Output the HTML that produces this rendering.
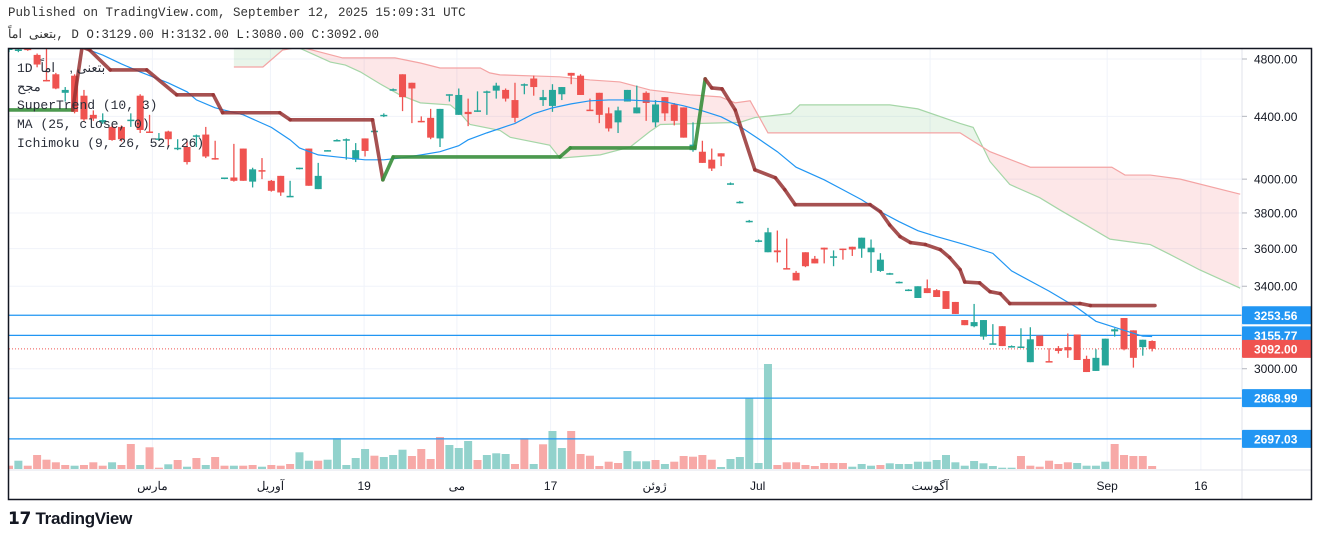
<!DOCTYPE html>
<html><head><meta charset="utf-8">
<style>
body{margin:0;width:1320px;height:541px;background:#fff;overflow:hidden;font-family:"Liberation Mono","Noto Sans CJK SC",monospace;}
.hdr{position:absolute;left:8px;font-size:12.5px;color:#333;white-space:nowrap;}
.lg{position:absolute;left:17px;font-size:13px;color:#2a2e39;white-space:nowrap;}
#chart{position:absolute;left:0;top:0;}
.logo{position:absolute;left:8px;top:509px;font:bold 17px "Liberation Sans",sans-serif;color:#131722;letter-spacing:-0.3px;}
</style></head><body>
<div class="hdr" style="top:6px">Published on TradingView.com, September 12, 2025 15:09:31 UTC</div>
<div class="hdr" style="top:26px"><span style="font-family:'Liberation Sans','Noto Sans CJK SC',sans-serif">بتعنی &nbsp;اماً</span>, D O:3129.00 H:3132.00 L:3080.00 C:3092.00</div>
<svg id="chart" width="1320" height="541" xmlns="http://www.w3.org/2000/svg">
<defs><clipPath id="pane"><rect x="9" y="49" width="1233" height="421"/></clipPath></defs>
<g id="grid"></g>
<g id="cloud" clip-path="url(#pane)"></g>
<g id="vol" clip-path="url(#pane)"></g>
<g id="hlines"></g>
<g id="candles" clip-path="url(#pane)"></g>
<g id="ind" clip-path="url(#pane)"></g>
<g id="axis"></g>
<rect x="8.5" y="48.5" width="1303" height="451" fill="none" stroke="#131722" stroke-width="1.5"/>
</svg>
<div class="lg" style="top:60px">1D <span style="font-family:'Liberation Sans','Noto Sans CJK SC',sans-serif">بتعنی ,&nbsp;&nbsp;&nbsp; اماً</span></div>
<div class="lg" style="top:79px;font-family:'Liberation Sans','Noto Sans CJK SC',sans-serif">مجح</div>
<div class="lg" style="top:98px">SuperTrend (10, 3)</div>
<div class="lg" style="top:117px">MA (25, close, 0)</div>
<div class="lg" style="top:136px">Ichimoku (9, 26, 52, 26)</div>
<div class="logo">𝟭𝟳 TradingView</div>
<script>
const opens=[4866,4860,4880,4830,4650,4690,4560,4680,4540,4410,4360,4330,4330,4370,4540,4300,4250,4300,4190,4200,4270,4280,4130,4005,4010,4190,3985,4055,3990,4020,3895,4065,4190,3940,4175,4240,4245,4120,4255,4300,4405,4580,4690,4630,4370,4390,4255,4545,4410,4430,4430,4560,4575,4580,4510,4615,4660,4510,4470,4550,4700,4680,4445,4560,4420,4360,4500,4420,4560,4360,4530,4480,4460,4180,4170,4120,4160,3970,3860,3750,3640,3580,3590,3495,3470,3580,3545,3605,3552,3600,3610,3600,3580,3480,3465,3420,3380,3340,3390,3380,3375,3320,3230,3200,3150,3115,3200,3102,3100,3030,3155,3035,3095,3100,3160,3045,2990,3015,3175,3240,3180,3100,3129];
const closes=[4890,4870,4865,4760,4640,4590,4580,4430,4380,4385,4375,4245,4250,4378,4310,4295,4255,4250,4195,4105,4275,4140,4125,4010,3990,3990,4060,4050,3930,3920,3900,4070,3960,4020,4180,4245,4250,4180,4175,4305,4410,4585,4530,4590,4365,4260,4450,4550,4545,4415,4440,4570,4610,4520,4390,4620,4600,4530,4580,4600,4680,4545,4440,4410,4320,4440,4580,4460,4490,4480,4420,4370,4260,4215,4100,4065,4140,3975,3865,3755,3645,3690,3580,3490,3430,3505,3520,3595,3558,3595,3595,3660,3605,3540,3468,3423,3383,3400,3365,3345,3285,3260,3205,3220,3230,3118,3105,3105,3103,3137,3105,3033,3082,3085,3040,2985,3050,3140,3185,3090,3050,3135,3092];
const highs=[4895,4880,4885,4840,4880,4700,4600,4690,4580,4440,4420,4340,4340,4420,4550,4410,4290,4305,4250,4240,4280,4330,4240,4010,4220,4190,4070,4130,3995,4020,3990,4070,4190,4100,4180,4250,4255,4225,4255,4310,4420,4590,4690,4630,4400,4450,4450,4550,4590,4520,4570,4575,4630,4590,4630,4625,4680,4580,4620,4600,4700,4690,4520,4560,4460,4465,4580,4610,4570,4510,4530,4490,4460,4360,4240,4190,4160,3980,3870,3760,3650,3715,3700,3655,3480,3580,3560,3605,3590,3600,3610,3660,3650,3575,3470,3425,3385,3400,3435,3385,3375,3320,3230,3310,3230,3210,3200,3108,3190,3195,3155,3095,3105,3165,3160,3060,3090,3140,3190,3240,3180,3135,3132];
const lows=[4850,4850,4860,4740,4640,4585,4500,4420,4370,4370,4350,4240,4235,4330,4290,4290,4240,4200,4180,4090,4200,4130,4120,4000,3985,3990,3950,4000,3925,3900,3895,4060,3960,3940,4175,4235,4120,4105,4140,4300,4395,4575,4435,4355,4360,4250,4200,4500,4410,4335,4430,4410,4520,4500,4360,4550,4540,4470,4430,4510,4620,4545,4440,4355,4300,4290,4500,4420,4370,4330,4370,4340,4260,4170,4100,4050,4080,3965,3855,3745,3635,3580,3525,3490,3430,3500,3520,3520,3505,3540,3560,3550,3470,3475,3460,3415,3375,3340,3365,3345,3285,3260,3205,3195,3135,3115,3105,3100,3100,3030,3105,3033,3070,3050,3040,2985,2990,3015,3150,3085,3005,3060,3080];
const volumes=[3.3,8.3,3.3,14,9.3,6.7,4,3.3,4,6.7,3.3,6.7,4,25,4,21.7,1.3,4.7,9,2.3,11,4,12,3.3,3.3,3.3,4,2.3,4,3.3,5,16.7,8.3,8.3,9.3,30.7,4,11,20,13.3,12,14,19.3,13,20,10,32,24,21,28,9,14,15.7,15,5,30.7,5,24.7,38,21,38,15,13.3,3,7.3,6,18,7.7,7.7,9,5,7.3,13,12.3,14,9.3,2,10,12,70.7,6,105,4,6.7,6.7,4,3,6,6,6,2.3,5,3.3,4,5.7,5,5,7.3,7.3,9,14,6.7,3.3,8,5.7,3,1.3,1.3,13,3.3,2.3,8.3,5,6.7,6,3.3,3.3,7.3,25,14,13,13,3];
const volDir="dudddddudddudduddudududdudduddduuduuuuuduuudddduuuduuuddudu udddddduuudud dddduuuuuudddddddduuudu uuuuuuuuuuuuudddddduuu udddd".replace(/ /g,'');
const spanAIdx=[24,29,31,34.3,35.9,37.5,39.6,41.7,43.9,47.1,48.1,49.2,52.4,53.5,57.7,58.8,63.1,66.3,68.4,69.5,78,79.6,83.4,84.4,94,97,101.5,102.9,104.7,106.8,110,112.2,114.8,117.5,121.8,123.9,127.1,131.4];
const spanAVal=[4950,4950,4880,4778,4756,4707,4622,4546,4491,4477,4424,4346,4307,4262,4212,4130,4150,4200,4300,4346,4360,4392,4418,4477,4477,4450,4353,4327,4108,3968,3889,3816,3735,3652,3622,3568,3485,3390];
const spanBIdx=[24,27.1,29.2,31.1,33.2,35.6,41.2,43.9,46,50.3,51.3,52.4,58.8,62,65.2,68.4,72.7,75.9,77.5,79.1,81,101.5,104.7,109,117.7,119.1,121.8,125,131.4];
const spanBVal=[4742,4742,4866,4888,4851,4808,4808,4771,4735,4735,4700,4686,4672,4650,4636,4580,4546,4532,4491,4505,4291,4291,4170,4073,4073,4025,4025,4000,3910];
const maIdx=[8,10,12,14,17,19,20,22,25,28,30,31,33,35,38,40,42,44,46,48,49,51,54,56,58,60,62,64,66,70,72,74,76,78,80,82,84,87,89,91,93,95,97,99,102,105,107,111,114,116,119,121,122];
const maVal=[4880,4829,4764,4707,4629,4567,4511,4457,4410,4327,4246,4194,4150,4137,4119,4119,4132,4150,4170,4208,4246,4291,4353,4418,4457,4484,4505,4511,4511,4498,4471,4437,4397,4333,4252,4170,4073,3996,3936,3877,3807,3750,3699,3666,3622,3574,3480,3375,3291,3224,3180,3152,3150];
const stIdx=[-1,6.8,7.8,8.6,10.8,14.7,17.9,21.8,22.8,28.9,30,38.8,39.9,41,58.8,59.9,73.2,74.3,75,76.1,77.5,79.6,81.8,82.8,83.9,91.9,93,94,95.1,96.2,97.8,99.4,100.4,101.5,102,103.6,104.7,105.8,106.8,114.3,115.4,122.3];
const stVal=[4443,4443,4888,4866,4721,4721,4546,4546,4424,4424,4377,4377,3996,4137,4137,4194,4194,4657,4594,4587,4443,4057,4008,3936,3848,3848,3807,3731,3666,3633,3622,3594,3551,3487,3422,3417,3372,3362,3312,3312,3302,3302];
const stDir="uuddddddddddduuuuudddddddddddddddddddddddd";
const priceTicks=[4800,4400,4000,3800,3600,3400,3000];
const levelVals=[3253.56,3155.77,2868.99,2697.03];
const lastPrice=3092.00;
const timeLabels=["مارس","آوریل","19","می","17","ژوئن","Jul","آگوست","Sep","16"];
const timeIdx=[15.3,27.9,37.9,47.8,57.8,68.9,79.9,98.3,117.2,127.2];

const NS="http://www.w3.org/2000/svg";
const xOf=i=>9+9.37*i;
const yOf=p=>59+Math.log(4800/p)*659;
const yV=v=>469-v;
function mk(tag,attrs,parent){const e=document.createElementNS(NS,tag);for(const k in attrs)e.setAttribute(k,attrs[k]);parent.appendChild(e);return e;}
const G=id=>document.getElementById(id);

priceTicks.forEach(p=>{const l=mk('line',{x1:9,x2:1242,y1:yOf(p),y2:yOf(p),stroke:'#f0f3fa'},G('grid'));

});
timeIdx.forEach(i=>{const l=mk('line',{x1:xOf(i),x2:xOf(i),y1:49,y2:470,stroke:'#f0f3fa'},G('grid'));

});

function interp(xs,ys,x){if(x<=xs[0])return ys[0];for(let k=1;k<xs.length;k++){if(x<=xs[k]){const t=(x-xs[k-1])/(xs[k]-xs[k-1]);return ys[k-1]+t*(ys[k]-ys[k-1]);}}return ys[ys.length-1];}
const c0=Math.max(spanAIdx[0],spanBIdx[0]),c1=Math.min(spanAIdx[spanAIdx.length-1],spanBIdx[spanBIdx.length-1]);
let pts=[];for(let x=c0;x<=c1+1e-9;x+=0.25)pts.push([x,interp(spanAIdx,spanAVal,x),interp(spanBIdx,spanBVal,x)]);
let seg=[pts[0]];
function flush(s){if(s.length<2)return;const m=s[Math.floor(s.length/2)];const up=m[1]>=m[2];
let d='M'+s.map(q=>xOf(q[0])+','+yOf(q[1])).join('L')+'L'+s.slice().reverse().map(q=>xOf(q[0])+','+yOf(q[2])).join('L')+'Z';
const f=mk('path',{d:d,fill:up?'rgba(76,175,80,0.12)':'rgba(242,54,69,0.12)'},G('cloud'));

}
for(let k=1;k<pts.length;k++){const a=pts[k-1],b=pts[k];seg.push(b);if(Math.sign(a[1]-a[2])!==Math.sign(b[1]-b[2])){flush(seg);seg=[a,b];}}
flush(seg);
const la=mk('path',{d:'M'+spanAIdx.map((x,k)=>xOf(x)+','+yOf(spanAVal[k])).join('L'),fill:'none',stroke:'#a5d6a7',"stroke-width":1.2},G('cloud'));


const lb=mk('path',{d:'M'+spanBIdx.map((x,k)=>xOf(x)+','+yOf(spanBVal[k])).join('L'),fill:'none',stroke:'#f4a4a4',"stroke-width":1.2},G('cloud'));



volumes.forEach((v,i)=>{const up=volDir[i]==='u';const r=mk('rect',{x:xOf(i)-4,y:yV(v),width:8,height:v,fill:up?'#92d2cc':'#f7a9a7'},G('vol'));

});

levelVals.forEach(p=>{const l=mk('line',{x1:9,x2:1242,y1:yOf(p),y2:yOf(p),stroke:'#2196f3',"stroke-width":1.2},G('hlines'));

});
const pl=mk('line',{x1:9,x2:1242,y1:yOf(lastPrice),y2:yOf(lastPrice),stroke:'#ef5350',"stroke-dasharray":'1 2'},G('hlines'));



opens.forEach((o,i)=>{const c=closes[i],up=c>=o,col=up?'#26a69a':'#ef5350',x=xOf(i);
const w=mk('line',{x1:x,x2:x,y1:yOf(highs[i]),y2:yOf(lows[i]),stroke:col,"stroke-width":1.3},G('candles'));


const t=Math.min(yOf(o),yOf(c)),h=Math.max(1.5,Math.abs(yOf(o)-yOf(c)));
const b=mk('rect',{x:x-3.5,y:t,width:7,height:h,fill:col},G('candles'));

});

const ma=mk('path',{d:'M'+maIdx.map((x,k)=>xOf(x)+','+yOf(maVal[k])).join('L'),fill:'none',stroke:'#2196f3',"stroke-width":1.2},G('ind'));



for(let k=1;k<stIdx.length;k++){const up=stDir[k]==='u';
const s=mk('line',{x1:xOf(stIdx[k-1]),y1:yOf(stVal[k-1]),x2:xOf(stIdx[k]),y2:yOf(stVal[k]),stroke:up?'rgba(56,142,60,0.9)':'rgba(150,50,50,0.85)',"stroke-width":3.6,"stroke-linecap":'round'},G('ind'));

}

const A=G('axis');
mk('line',{x1:1242,x2:1242,y1:49,y2:500,stroke:'#e0e3eb'},A);
mk('line',{x1:9,x2:1312,y1:470,y2:470,stroke:'#e0e3eb'},A);
priceTicks.forEach(p=>{mk('line',{x1:1242,x2:1247,y1:yOf(p),y2:yOf(p),stroke:'#b2b5be'},A);
const t=mk('text',{x:1254,y:yOf(p)+4.5,"font-size":12,fill:'#131722',"font-family":'Liberation Sans,sans-serif'},A);t.textContent=p.toFixed(2);

});
function tag(p,col,name){const y=yOf(p);const r=mk('rect',{x:1242,y:y-9,width:70,height:18,fill:col,rx:1},A);


const t=mk('text',{x:1254,y:y+4.5,"font-size":12,"font-weight":'bold',fill:'#fff',"font-family":'Liberation Sans,sans-serif'},A);t.textContent=p.toFixed(2);

}
levelVals.forEach(p=>tag(p,'#2196f3','level-price-tag'));
tag(lastPrice,'#ef5350','last-price-tag');
timeLabels.forEach((s,k)=>{const t=mk('text',{x:xOf(timeIdx[k]),y:490,"font-size":12,"text-anchor":'middle',fill:'#131722',"font-family":'Liberation Sans,Noto Sans CJK SC,sans-serif'},A);t.textContent=s;

});
</script>
</body></html>
